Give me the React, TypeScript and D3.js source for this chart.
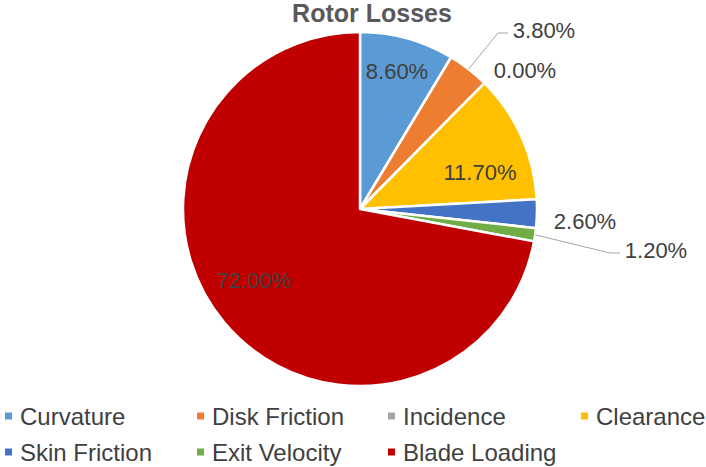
import React, { useEffect, useRef } from 'react';
import * as d3 from 'd3';

// slice data, clockwise from 12 o'clock
const categories = ['Curvature', 'Disk Friction', 'Incidence', 'Clearance', 'Skin Friction', 'Exit Velocity', 'Blade Loading'];
const losses = [8.6, 3.8, 0.0, 11.7, 2.6, 1.2, 72.0];
const colors = ['#5B9BD5', '#ED7D31', '#A5A5A5', '#FFC000', '#4472C4', '#70AD47', '#C00000'];

// label placement (offset of label centre from pie centre) and whether a leader line is drawn
const labelOffsets: [number, number][] = [[37, -138], [184, -179], [165, -139], [120, -37], [225, 12], [296, 41], [-106, 71]];
const hasLeader = [false, true, false, false, false, true, false];
const labelOutside = [false, true, true, false, true, true, false];

const W = 706;
const H = 467;

const App = () => {
  const svgRef = useRef<SVGSVGElement>(null);

  useEffect(() => {
    const svg = d3.select(svgRef.current);
    svg.selectAll('*').remove();

    const cx = 360, cy = 209, r = 177;
    const font = '"Liberation Sans", Arial, sans-serif';

    svg.append('text')
      .attr('x', 372)
      .attr('y', 22)
      .attr('text-anchor', 'middle')
      .attr('font-family', font)
      .attr('font-size', 25)
      .attr('font-weight', 'bold')
      .attr('fill', '#595959')
      .text('Rotor Losses');

    const pie = d3.pie<number>().sort(null).value(d => d);
    const arcs = pie(losses);
    const arc = d3.arc<d3.PieArcDatum<number>>().innerRadius(0).outerRadius(r);

    const g = svg.append('g').attr('transform', `translate(${cx},${cy})`);

    g.selectAll('path')
      .data(arcs)
      .enter()
      .append('path')
      .attr('d', arc)
      .attr('fill', (d, i) => colors[i])
      .attr('stroke', '#fff')
      .attr('stroke-width', 2.5)
      .attr('stroke-linejoin', 'round');

    // leader lines
    arcs.forEach((a, i) => {
      if (!hasLeader[i]) return;
      const mid = (a.startAngle + a.endAngle) / 2;
      const sx = Math.sin(mid) * r;
      const sy = -Math.cos(mid) * r;
      const [lx, ly] = labelOffsets[i];
      const left = lx - 33;
      const y = ly + 3;
      g.append('polyline')
        .attr('points', `${sx},${sy} ${left - 13},${y} ${left - 3},${y}`)
        .attr('fill', 'none')
        .attr('stroke', '#A6A6A6')
        .attr('stroke-width', 1);
    });

    arcs.forEach((a, i) => {
      const [lx, ly] = labelOffsets[i];
      g.append('text')
        .attr('x', lx)
        .attr('y', ly)
        .attr('dy', '0.36em')
        .attr('text-anchor', 'middle')
        .attr('font-family', font)
        .attr('font-size', 22)
        .attr('fill', labelOutside[i] ? '#404040' : '#404040')
        .text(`${d3.format('.2f')(a.data)}%`);
    });

    // legend
    const colX = [5, 197, 388, 581];
    const rowY = [416, 452];
    const legend = svg.append('g');
    categories.forEach((c, i) => {
      const x = colX[i % 4];
      const y = rowY[Math.floor(i / 4)];
      const item = legend.append('g').attr('transform', `translate(${x},${y})`);
      item.append('rect')
        .attr('x', 0)
        .attr('y', -3.5)
        .attr('width', 7)
        .attr('height', 7)
        .attr('fill', colors[i]);
      item.append('text')
        .attr('x', 15)
        .attr('y', 0)
        .attr('dy', '0.36em')
        .attr('font-family', font)
        .attr('font-size', 24)
        .attr('fill', '#404040')
        .text(c);
    });
  }, []);

  return (
    <svg
      ref={svgRef}
      width={W}
      height={H}
      style={{ position: 'absolute', left: 0, top: 0, background: '#fff' }}
    />
  );
};

export default App;
